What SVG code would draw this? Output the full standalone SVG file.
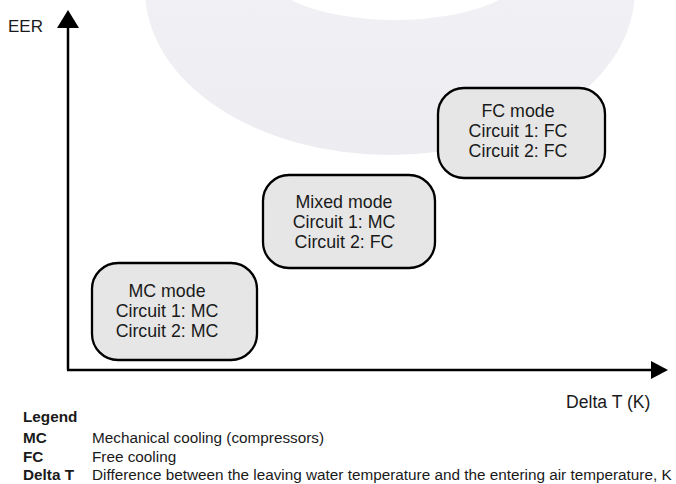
<svg xmlns="http://www.w3.org/2000/svg" width="676" height="484" viewBox="0 0 676 484">
<style>
.ax{stroke:#000;stroke-width:2.5;fill:none}
.box{fill:#e6e6e6;stroke:#000;stroke-width:2.3}
.t{font-family:"Liberation Sans",Arial,sans-serif;font-size:17px;fill:#1a1a1a}
.n{font-size:17.8px}
.bt{text-anchor:middle}
.lg{font-family:"Liberation Sans",Arial,sans-serif;font-size:15.3px;fill:#1a1a1a}
.b{font-weight:bold}
</style>
<defs>
<linearGradient id="wm" x1="0" y1="0" x2="0" y2="1">
<stop offset="0" stop-color="#f6f6f9"/>
<stop offset="1" stop-color="#ececf1"/>
</linearGradient>
</defs>
<g id="watermark">
<path d="M145,-10 a245,165 0 1,0 490,0 a245,165 0 1,0 -490,0 Z M260,-35 a135,55 0 1,0 270,0 a135,55 0 1,0 -270,0 Z" fill="url(#wm)" fill-rule="evenodd"/>
</g>
<g id="connectors">
<line class="ax" x1="68" y1="370" x2="68" y2="26"/>
<polygon points="68,10 57,28 79,28" fill="#000"/>
<line class="ax" x1="67" y1="370" x2="653" y2="370"/>
<polygon points="668,370 651,361 651,379" fill="#000"/>
</g>
<g id="axis-y-label"><text class="t" x="8" y="32">EER</text></g>
<g id="axis-x-label"><text class="t" x="566" y="408" style="font-size:17.6px">Delta T (K)</text></g>
<g id="mc-mode">
<rect class="box" x="92" y="263" width="165" height="97" rx="26"/>
<text class="t n bt" x="167" y="297">MC mode</text>
<text class="t n bt" x="167" y="317">Circuit 1: MC</text>
<text class="t n bt" x="167" y="337">Circuit 2: MC</text>
</g>
<g id="mixed-mode">
<rect class="box" x="263" y="175" width="172" height="93" rx="26"/>
<text class="t n bt" x="344" y="208">Mixed mode</text>
<text class="t n bt" x="344" y="228">Circuit 1: MC</text>
<text class="t n bt" x="344" y="248">Circuit 2: FC</text>
</g>
<g id="fc-mode">
<rect class="box" x="438" y="88" width="167" height="90" rx="26"/>
<text class="t n bt" x="518" y="117">FC mode</text>
<text class="t n bt" x="518" y="137">Circuit 1: FC</text>
<text class="t n bt" x="518" y="157">Circuit 2: FC</text>
</g>
<g id="legend">
<text class="lg b" x="23" y="422">Legend</text>
<text class="lg b" x="23" y="443">MC</text>
<text class="lg" x="92" y="443">Mechanical cooling (compressors)</text>
<text class="lg b" x="23" y="462">FC</text>
<text class="lg" x="92" y="462">Free cooling</text>
<text class="lg b" x="23" y="480">Delta T</text>
<text class="lg" x="92" y="480">Difference between the leaving water temperature and the entering air temperature, K</text>
</g>
</svg>
